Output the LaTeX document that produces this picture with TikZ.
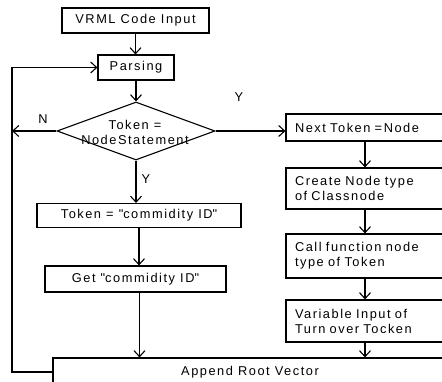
\documentclass[tikz,border=0pt]{standalone}
\usepackage{fontspec}
\setmainfont{Liberation Sans}[LetterSpace=12]
\usetikzlibrary{arrows.meta,shapes.geometric}
\begin{document}
\begin{tikzpicture}[x=1pt,y=-1pt,
  font=\fontsize{12.8}{15}\selectfont,
  box/.style={draw,line width=1.1pt,inner sep=0pt},
  rbox/.style={draw,line width=1.1pt,text width=140pt,align=left,inner xsep=9pt,inner ysep=0pt},
  arr/.style={line width=1.1pt,-{Straight Barb[length=6pt,width=11pt]}},
  lbl/.style={inner sep=0pt}]
\useasboundingbox (0,0) rectangle (442,382);
\clip (0,0) rectangle (442,382);
\coordinate (lx) at (12,0);
\node[box, minimum width=147pt, minimum height=25pt] (vrml) at (135.5,20.5) {VRML Code Input};
\node[box, minimum width=76pt, minimum height=25pt] (parse) at (136,67.5) {Parsing};
\node[draw, line width=1.1pt, diamond, minimum width=158pt, minimum height=58pt, inner sep=0pt] (dec) at (136,131) {};
\node[align=center, inner sep=0pt] (dtext) at (135,132.5) {Token =\\NodeStatement};
\node[box, minimum width=204pt, minimum height=24pt] (tok) at (139,215.5) {Token = \textquotedbl commidity ID\textquotedbl};
\node[box, minimum width=181pt, minimum height=26pt] (get) at (135.5,279) {Get \textquotedbl commidity ID\textquotedbl};
\node[rbox, minimum height=27pt] (next) at (365,127.5) {Next Token =Node};
\node[rbox, minimum height=41pt] (create) at (365,188.5) {Create Node type\\of Classnode};
\node[rbox, minimum height=44pt] (call) at (365,256) {Call function node\\type of Token};
\node[rbox, minimum height=42pt] (var) at (365,321) {Variable Input of\\Turn over Tocken};
\node[box, minimum width=394pt, minimum height=28pt] (app) at (250,372) {Append Root Vector};
\node[lbl] (lN) at (43,119) {N};
\node[lbl] (lY1) at (239,97) {Y};
\node[lbl] (lY2) at (146,179) {Y};
\draw[arr] (vrml.south) -- (vrml.south |- parse.north);
\draw[arr] (parse.south) -- (parse.south |- dec.north);
\draw[arr] (dec.south) -- (dec.south |- tok.north);
\draw[arr] (tok.south) -- (tok.south |- get.north);
\draw[arr] ([xshift=4pt]get.south) -- ([xshift=4pt]get.south |- app.north);
\draw[arr] (dec.east) -- (dec.east -| next.west);
\draw[arr] (next) -- (create);
\draw[arr] (create) -- (call);
\draw[arr] (call) -- (var);
\draw[arr] (var.south) -- (var.south |- app.north);
\draw[arr] (dec.west) -- (dec.west -| lx);
\draw[arr] (app.west) -- (app.west -| lx) |- (parse.west);
\end{tikzpicture}
\end{document}
